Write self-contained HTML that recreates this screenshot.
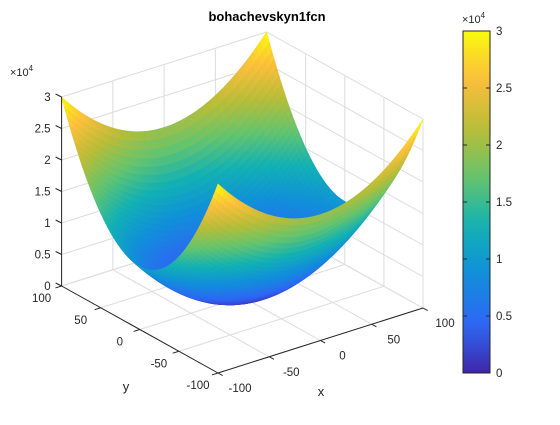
<!DOCTYPE html>
<html><head><meta charset="utf-8"><style>
body{margin:0;background:#fff}
svg text{font-family:"Liberation Sans",Arial,sans-serif}
</style></head><body>
<svg id="chart" width="560" height="420" viewBox="0 0 560 420" xmlns="http://www.w3.org/2000/svg">
<rect width="560" height="420" fill="#fff"/>
<g id="grid"></g><g id="surf"></g><g id="axes"></g><g id="cbar"></g>
<text x="267" y="21" text-anchor="middle" font-size="13" font-weight="bold" fill="#000">bohachevskyn1fcn</text>
</svg>
<script>
const xTicks=[-100,-50,0,50,100];
const yTicks=[-100,-50,0,50,100];
const zTicks=[0,5000,10000,15000,20000,25000,30000];
const zTickLabels=['0','0.5','1','1.5','2','2.5','3'];
const cTickLabels=['0','0.5','1','1.5','2','2.5','3'];
const cTicks=[0,5000,10000,15000,20000,25000,30000];
const xRange=[-100,100], yRange=[-100,100], zRange=[0,30000];
const N=64;
function f(x,y){return x*x+2*y*y-0.3*Math.cos(3*Math.PI*x)-0.4*Math.cos(4*Math.PI*y)+0.7;}
const NS='http://www.w3.org/2000/svg';
function U(x){return (x-xRange[0])/(xRange[1]-xRange[0])*2-1;}
function V(y){return (y-yRange[0])/(yRange[1]-yRange[0])*2-1;}
function W(z){return (z-zRange[0])/(zRange[1]-zRange[0]);}
function P(x,y,z){const u=U(x),v=V(y),w=W(z);return [242.3+102.5*u-78.2*v,297-32.5*u-43.5*v-189*w];}
function depth(x,y,z){return 56*U(x)+75*V(y)-109*W(z);}
const stops=[[0,62,38,168],[0.14,46,102,245],[0.29,17,143,218],[0.43,18,177,180],[0.57,100,196,110],[0.71,183,189,56],[0.86,252,190,60],[1,249,251,14]];
function parula(t){t=Math.max(0,Math.min(1,t));for(let i=1;i<stops.length;i++){if(t<=stops[i][0]){const a=stops[i-1],b=stops[i],k=(t-a[0])/(b[0]-a[0]);return `rgb(${Math.round(a[1]+k*(b[1]-a[1]))},${Math.round(a[2]+k*(b[2]-a[2]))},${Math.round(a[3]+k*(b[3]-a[3]))})`;}}return 'rgb(249,251,14)';}
function el(tag,attrs,parent){const e=document.createElementNS(NS,tag);for(const k in attrs)e.setAttribute(k,attrs[k]);parent.appendChild(e);return e;}
const grid=document.getElementById('grid'),axes=document.getElementById('axes'),surf=document.getElementById('surf'),cbar=document.getElementById('cbar');
function line(g,a,b,c,w){const l=el('line',{x1:a[0],y1:a[1],x2:b[0],y2:b[1],stroke:c,'stroke-width':w},g);return l;}
const gc='#dcdcdc';
xTicks.forEach(x=>{const l1=line(grid,P(x,yRange[0],0),P(x,yRange[1],0),gc,1);
const l2=line(grid,P(x,yRange[1],0),P(x,yRange[1],zRange[1]),gc,1);});
yTicks.forEach(y=>{const l1=line(grid,P(xRange[0],y,0),P(xRange[1],y,0),gc,1);
const l2=line(grid,P(xRange[1],y,0),P(xRange[1],y,zRange[1]),gc,1);});
zTicks.forEach(z=>{const l1=line(grid,P(xRange[0],yRange[1],z),P(xRange[1],yRange[1],z),gc,1);
const l2=line(grid,P(xRange[1],yRange[1],z),P(xRange[1],yRange[0],z),gc,1);});
const quads=[];
for(let i=0;i<N;i++)for(let j=0;j<N;j++){
 const x0=xRange[0]+(xRange[1]-xRange[0])*i/N,x1=xRange[0]+(xRange[1]-xRange[0])*(i+1)/N;
 const y0=yRange[0]+(yRange[1]-yRange[0])*j/N,y1=yRange[0]+(yRange[1]-yRange[0])*(j+1)/N;
 const pts=[[x0,y0],[x1,y0],[x1,y1],[x0,y1]].map(p=>[p[0],p[1],f(p[0],p[1])]);
 const zm=pts.reduce((s,p)=>s+p[2],0)/4;
 const d=pts.reduce((s,p)=>s+depth(p[0],p[1],p[2]),0)/4;
 quads.push({pts,zm,d});}
quads.sort((a,b)=>b.d-a.d);
quads.forEach(q=>{const c=parula(W(q.zm));const p=el('polygon',{points:q.pts.map(p=>P(p[0],p[1],p[2]).map(v=>v.toFixed(2)).join(',')).join(' '),fill:c,stroke:c,'stroke-width':0.6,'stroke-linejoin':'round'},surf);

});
const ax='#262626';
line(axes,P(xRange[0],yRange[0],0),P(xRange[1],yRange[0],0),ax,1);
line(axes,P(xRange[0],yRange[0],0),P(xRange[0],yRange[1],0),ax,1);
line(axes,P(xRange[0],yRange[1],0),P(xRange[0],yRange[1],zRange[1]),ax,1);
function txt(x,y,s,anchor,size,name){const t=el('text',{x:x,y:y,'text-anchor':anchor,'font-size':size,fill:'#262626'},axes);t.textContent=s;return t;}
xTicks.forEach(x=>{const a=P(x,yRange[0],0),b=P(x,yRange[0]+6,0);line(axes,a,[2*a[0]-b[0],2*a[1]-b[1]],ax,1);
txt(a[0]+22,a[1]+19,String(x),'middle',11.5,'x-tick-label');});
yTicks.forEach(y=>{const a=P(xRange[0],y,0),b=P(xRange[0]+6,y,0);line(axes,a,[2*a[0]-b[0],2*a[1]-b[1]],ax,1);
txt(a[0]-20,a[1]+16,String(y),'middle',11.5,'y-tick-label');});
zTicks.forEach((z,i)=>{const a=P(xRange[0],yRange[1],z);line(axes,a,[a[0]-6,a[1]-3],ax,1);
txt(a[0]-11,a[1]+4,zTickLabels[i],'end',11.5,'z-tick-label');});
const zx=txt(10,76,'×10','start',11,'z-exponent');const sup=el('tspan',{dy:-5,'font-size':8},zx);sup.textContent='4';
txt(321,396,'x','middle',13,'x-axis-title');
txt(126,391,'y','middle',13,'y-axis-title');
const cx=463,cw=27,ctop=31,cbot=373;
const defs=el('defs',{},cbar);const lg=el('linearGradient',{id:'pg',x1:0,y1:1,x2:0,y2:0},defs);
for(let k=0;k<=20;k++)el('stop',{offset:k/20,'stop-color':parula(k/20)},lg);
const cr=el('rect',{x:cx,y:ctop,width:cw,height:cbot-ctop,fill:'url(#pg)',stroke:'#262626','stroke-width':1},cbar);


cTicks.forEach((c,i)=>{const y=cbot-(c-zRange[0])/(zRange[1]-zRange[0])*(cbot-ctop);
line(cbar,[cx,y],[cx+4,y],'#262626',1);line(cbar,[cx+cw-4,y],[cx+cw,y],'#262626',1);
const t=el('text',{x:cx+cw+6,y:y+4,'font-size':11.5,fill:'#262626'},cbar);t.textContent=cTickLabels[i];

});
const ce=el('text',{x:462,y:23,'font-size':11,fill:'#262626'},cbar);ce.textContent='×10';


const cs=el('tspan',{dy:-5,'font-size':8},ce);cs.textContent='4';
</script>
</body></html>
